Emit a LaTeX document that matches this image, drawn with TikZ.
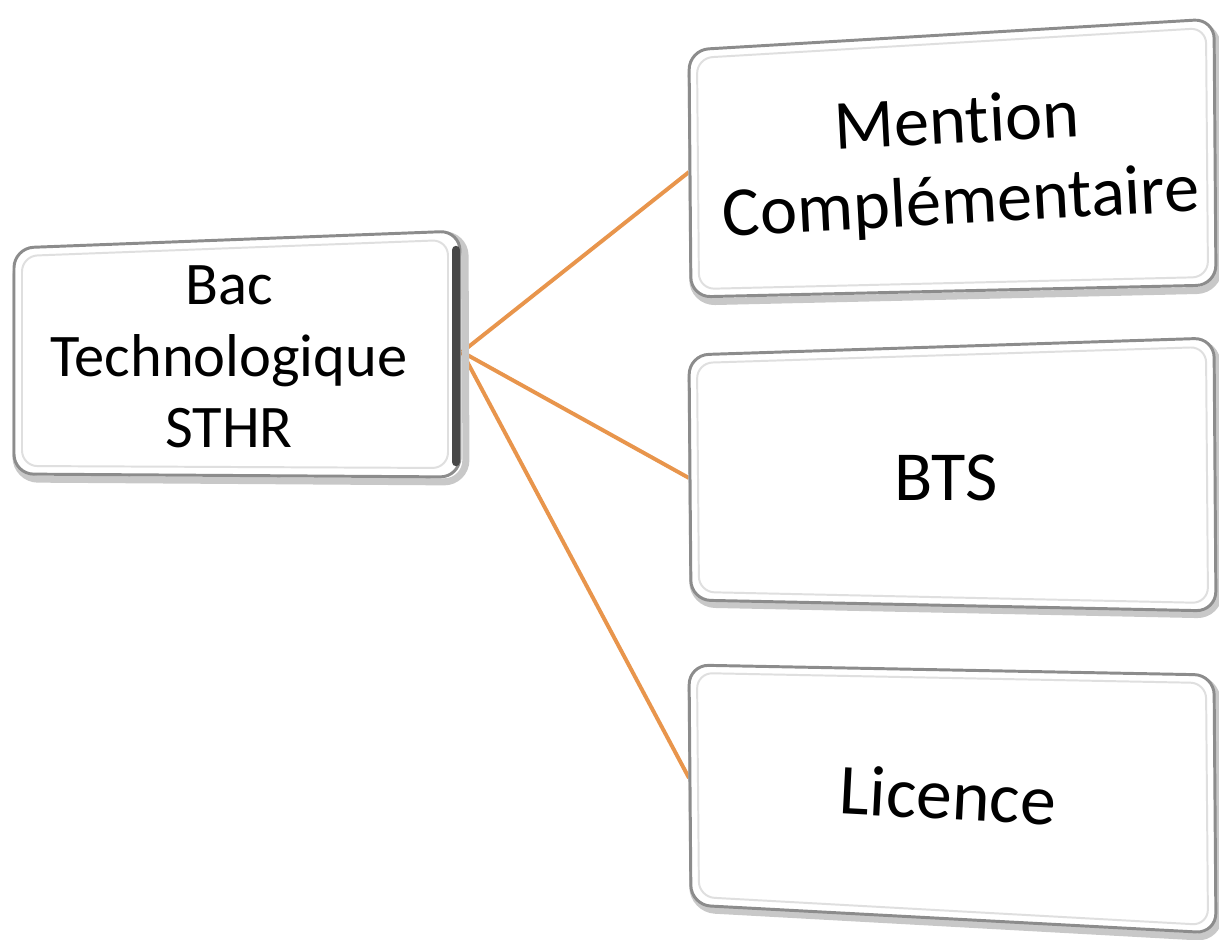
\documentclass[tikz,border=0pt]{standalone}
\usepackage{fontspec}
\setmainfont[Ligatures={NoCommon}]{Carlito}
\definecolor{linkorange}{HTML}{E8954C}
\definecolor{rimgray}{HTML}{8C8C8C}
\definecolor{shadegray}{HTML}{C8C8C8}
\tikzset{
  boxshadow/.style={draw=shadegray, line width=5pt, rounded corners=15.6pt},
  boxface/.style={fill=white, draw=rimgray, line width=2.1pt, rounded corners=14pt},
  boxinner/.style={draw=gray!25, line width=1.4pt, rounded corners=11pt},
  link/.style={draw=linkorange, line width=2.8pt},
  bigtext/.style={align=center, text=black, inner sep=0pt}
}
\begin{document}
\begin{tikzpicture}[x=0.025cm, y=-0.025cm]
\useasboundingbox (0,0) rectangle (1219,940);

% connector end points on box edges
\coordinate (bacR) at (462,352);
\coordinate (mcL) at (689,172);
\coordinate (btsL) at (689,478);
\coordinate (licL) at (689,778);

% connectors
\draw[link] (bacR) -- (mcL);
\draw[link] (bacR) -- (btsL);
\draw[link] (bacR) -- (licL);

% left box
\draw[boxshadow] (16,252) -- (465,234) -- (466,482) -- (16,479) -- cycle;
\filldraw[boxface] (14,248) -- (460,231) -- (460,477) -- (14,474) -- cycle;
\draw[line width=6pt, black!72, line cap=round] (456,250) -- (456,462);
\draw[boxinner] (22,256) -- (448,240) -- (448,468) -- (22,466) -- cycle;

% Mention box
\draw[boxshadow] (691,54) -- (1217,24) -- (1219,290) -- (693,302) -- cycle;
\filldraw[boxface] (689,50) -- (1214,19) -- (1216,285) -- (691,297) -- cycle;
\draw[boxinner] (697,58) -- (1206,28) -- (1208,277) -- (699,289) -- cycle;

% BTS box
\draw[boxshadow] (691,359) -- (1217,342) -- (1219,615) -- (693,604) -- cycle;
\filldraw[boxface] (689,355) -- (1214,338) -- (1216,611) -- (691,600) -- cycle;
\draw[boxinner] (697,363) -- (1206,347) -- (1208,603) -- (699,592) -- cycle;

% Licence box
\draw[boxshadow] (691,669) -- (1217,679) -- (1219,938) -- (693,909) -- cycle;
\filldraw[boxface] (689,665) -- (1214,675) -- (1216,933) -- (691,905) -- cycle;
\draw[boxinner] (697,673) -- (1206,683) -- (1208,925) -- (699,897) -- cycle;

% texts
\node[bigtext, font=\fontsize{43}{51}\selectfont] (bac) at (229,357) {Bac\\Technologique\\STHR};
\node[bigtext, rotate=3, font=\fontsize{50}{57}\selectfont] (mc) at (959,165) {Mention\\Complémentaire};
\node[bigtext, font=\fontsize{50}{56}\selectfont] (bts) at (946,478) {BTS};
\node[bigtext, rotate=-3, font=\fontsize{51}{56}\selectfont] (lic) at (948,795) {Licence};
\end{tikzpicture}
\end{document}
